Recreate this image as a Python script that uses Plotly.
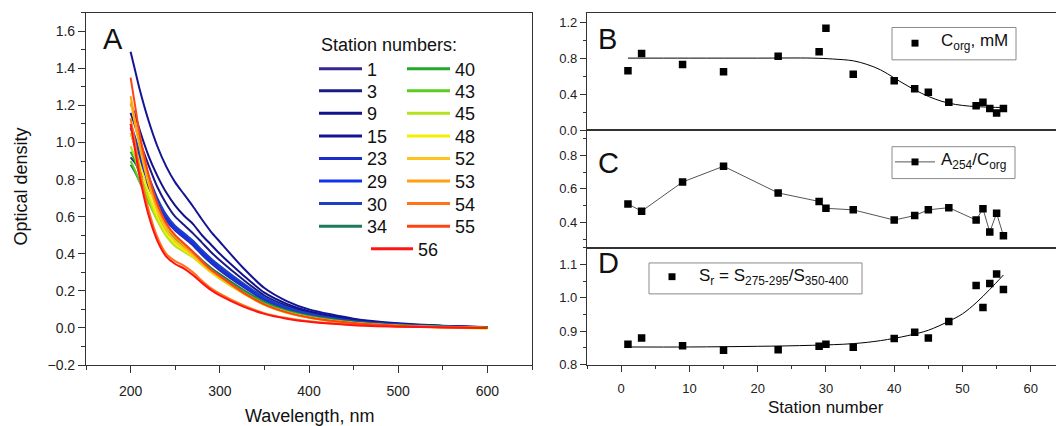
import plotly.graph_objects as go

FIG_W, FIG_H = 1056, 426


def px(x):
    return x / FIG_W


def py(y):
    return 1 - y / FIG_H


# ---------------- Panel A: absorption spectra ----------------
wavelength = [200, 205, 210, 220, 230, 240, 250, 260, 270, 280, 290, 300,
              325, 350, 375, 400, 450, 500, 550, 600]

od_st01 = [0.92, 0.89, 0.85, 0.76, 0.66, 0.58, 0.525, 0.485, 0.445, 0.395, 0.35, 0.31, 0.225, 0.15, 0.10, 0.07, 0.034, 0.016, 0.008, 0.002]
od_st03 = [1.16, 1.09, 1.01, 0.88, 0.76, 0.67, 0.60, 0.555, 0.51, 0.46, 0.41, 0.365, 0.265, 0.175, 0.12, 0.083, 0.041, 0.02, 0.01, 0.004]
od_st09 = [1.21, 1.15, 1.07, 0.93, 0.82, 0.73, 0.66, 0.605, 0.56, 0.50, 0.45, 0.40, 0.29, 0.19, 0.13, 0.09, 0.045, 0.022, 0.011, 0.004]
od_st15 = [1.49, 1.39, 1.29, 1.12, 0.98, 0.87, 0.785, 0.72, 0.655, 0.585, 0.52, 0.465, 0.33, 0.215, 0.145, 0.10, 0.05, 0.025, 0.012, 0.005]
od_st23 = [1.08, 1.01, 0.93, 0.80, 0.68, 0.595, 0.54, 0.50, 0.46, 0.41, 0.365, 0.325, 0.238, 0.16, 0.108, 0.075, 0.036, 0.018, 0.009, 0.003]
od_st29 = [1.05, 0.98, 0.91, 0.78, 0.665, 0.58, 0.53, 0.49, 0.45, 0.40, 0.355, 0.318, 0.232, 0.155, 0.105, 0.072, 0.035, 0.017, 0.008, 0.003]
od_st30 = [1.10, 1.03, 0.95, 0.82, 0.70, 0.61, 0.55, 0.51, 0.47, 0.42, 0.375, 0.335, 0.245, 0.165, 0.112, 0.078, 0.038, 0.019, 0.009, 0.003]
od_st34 = [0.88, 0.84, 0.79, 0.69, 0.60, 0.53, 0.48, 0.45, 0.41, 0.365, 0.325, 0.29, 0.21, 0.14, 0.095, 0.066, 0.032, 0.015, 0.007, 0.002]
od_st40 = [0.95, 0.90, 0.83, 0.71, 0.60, 0.525, 0.475, 0.44, 0.40, 0.355, 0.315, 0.28, 0.202, 0.135, 0.09, 0.062, 0.03, 0.014, 0.006, 0.002]
od_st43 = [0.90, 0.85, 0.79, 0.68, 0.58, 0.505, 0.455, 0.42, 0.385, 0.345, 0.305, 0.272, 0.196, 0.13, 0.087, 0.06, 0.028, 0.013, 0.006, 0.001]
od_st45 = [0.98, 0.92, 0.84, 0.70, 0.58, 0.495, 0.44, 0.41, 0.38, 0.34, 0.30, 0.265, 0.19, 0.126, 0.084, 0.057, 0.027, 0.012, 0.005, 0.0]
od_st48 = [1.05, 0.98, 0.89, 0.73, 0.60, 0.51, 0.455, 0.42, 0.385, 0.342, 0.302, 0.268, 0.19, 0.125, 0.083, 0.056, 0.026, 0.011, 0.003, -0.004]
od_st52 = [1.22, 1.10, 0.98, 0.78, 0.63, 0.53, 0.47, 0.43, 0.39, 0.345, 0.305, 0.27, 0.19, 0.124, 0.082, 0.055, 0.025, 0.011, 0.004, -0.002]
od_st53 = [1.25, 1.12, 1.00, 0.80, 0.65, 0.55, 0.49, 0.445, 0.40, 0.352, 0.31, 0.275, 0.193, 0.126, 0.083, 0.056, 0.026, 0.011, 0.004, 0.0]
od_st54 = [1.13, 1.00, 0.86, 0.64, 0.49, 0.40, 0.36, 0.335, 0.30, 0.255, 0.215, 0.185, 0.125, 0.08, 0.053, 0.036, 0.017, 0.008, 0.004, 0.0]
od_st55 = [1.35, 1.20, 1.05, 0.83, 0.67, 0.565, 0.50, 0.455, 0.41, 0.36, 0.315, 0.28, 0.195, 0.127, 0.084, 0.056, 0.026, 0.012, 0.005, 0.0]
od_st56 = [1.10, 0.96, 0.82, 0.61, 0.47, 0.385, 0.345, 0.32, 0.285, 0.243, 0.205, 0.175, 0.118, 0.076, 0.05, 0.033, 0.015, 0.007, 0.003, -0.001]

stations = [1, 3, 9, 15, 23, 29, 30, 34, 40, 43, 45, 48, 52, 53, 54, 55, 56]
station_colors = ["#3a2590", "#1c1a86", "#12128c", "#141494", "#1a2ecc", "#1234e6",
                  "#1c3fc4", "#1e7a5c", "#22a82a", "#5ccc22", "#b4e21e", "#f2f000",
                  "#ffc21e", "#ffa010", "#ff7418", "#ff4414", "#ff1414"]
spectra = [od_st01, od_st03, od_st09, od_st15, od_st23, od_st29, od_st30, od_st34,
           od_st40, od_st43, od_st45, od_st48, od_st52, od_st53, od_st54, od_st55, od_st56]

# ---------------- Panels B-D: station series ----------------
c_org = [0.66, 0.85, 0.73, 0.65, 0.82, 0.87, 1.13, 0.62, 0.55, 0.46, 0.42, 0.31,
         0.27, 0.31, 0.24, 0.19, 0.24]
a254_corg = [0.51, 0.467, 0.641, 0.735, 0.576, 0.525, 0.484, 0.475, 0.414, 0.441,
             0.475, 0.488, 0.414, 0.482, 0.343, 0.455, 0.32]
s_ratio = [0.861, 0.880, 0.857, 0.843, 0.845, 0.855, 0.861, 0.852, 0.878, 0.897,
           0.880, 0.929, 1.037, 0.971, 1.043, 1.071, 1.025]

# fitted trend lines
corg_fit_x = [1, 10, 20, 28, 31, 34, 36, 38, 40, 42, 44, 46, 48, 50, 52, 54, 56]
corg_fit_y = [0.80, 0.80, 0.80, 0.80, 0.79, 0.77, 0.73, 0.67, 0.58, 0.49, 0.41, 0.345, 0.30, 0.275, 0.262, 0.255, 0.252]
sr_fit_x = [1, 10, 20, 28, 34, 38, 42, 45, 48, 50, 52, 54, 56]
sr_fit_y = [0.853, 0.853, 0.855, 0.858, 0.863, 0.872, 0.887, 0.903, 0.930, 0.952, 0.985, 1.025, 1.068]

AXIS_COLOR = "#333333"
FONT = "Liberation Sans, Arial, sans-serif"

fig = go.Figure()

for st, col, od in zip(stations, station_colors, spectra):
    fig.add_trace(go.Scatter(x=wavelength, y=od, mode="lines", name=str(st),
                             line=dict(color=col, width=2, shape="spline", smoothing=0.7),
                             xaxis="x", yaxis="y", showlegend=False))

sq = dict(symbol="square", size=7.5, color="black")
fig.add_trace(go.Scatter(x=corg_fit_x, y=corg_fit_y, mode="lines",
                         line=dict(color="black", width=1, shape="spline"),
                         xaxis="x2", yaxis="y2", showlegend=False))
fig.add_trace(go.Scatter(x=stations, y=c_org, mode="markers", marker=sq,
                         xaxis="x2", yaxis="y2", showlegend=False))
fig.add_trace(go.Scatter(x=stations, y=a254_corg, mode="lines+markers", marker=sq,
                         line=dict(color="#555555", width=1),
                         xaxis="x3", yaxis="y3", showlegend=False))
fig.add_trace(go.Scatter(x=sr_fit_x, y=sr_fit_y, mode="lines",
                         line=dict(color="black", width=1, shape="spline"),
                         xaxis="x4", yaxis="y4", showlegend=False))
fig.add_trace(go.Scatter(x=stations, y=s_ratio, mode="markers", marker=sq,
                         xaxis="x4", yaxis="y4", showlegend=False))

common = dict(showline=True, linecolor=AXIS_COLOR, linewidth=1.2, showgrid=False,
              zeroline=False, ticks="outside", tickcolor=AXIS_COLOR, tickwidth=1.2,
              ticklen=7, color="#222222")

left_tick_font = dict(family=FONT, size=14, color="#222222")
right_tick_font = dict(family=FONT, size=13, color="#222222")

layout = dict(
    width=FIG_W, height=FIG_H, margin=dict(l=0, r=0, t=0, b=0),
    paper_bgcolor="white", plot_bgcolor="white", showlegend=False,
    font=dict(family=FONT, color="#222222"),
    xaxis=dict(common, domain=[px(86), px(532)], range=[150, 650], dtick=100, tick0=0,
               mirror=True, anchor="y", tickfont=left_tick_font, ticklabelstandoff=6,
               minor=dict(ticks="outside", dtick=50, tick0=0, ticklen=4, tickcolor=AXIS_COLOR)),
    yaxis=dict(common, domain=[py(372), py(13)], range=[-0.2, 1.7], dtick=0.2, tick0=0,
               tickformat=".1f", mirror=True, anchor="x", tickfont=left_tick_font,
               minor=dict(ticks="outside", dtick=0.1, tick0=0, ticklen=4, tickcolor=AXIS_COLOR)),
    xaxis4=dict(common, domain=[px(587), 1.0], range=[-5, 63.7], dtick=10, tick0=0,
                mirror=True, anchor="y4", tickfont=right_tick_font, ticklen=6,
                ticklabelstandoff=6,
                minor=dict(ticks="outside", dtick=5, tick0=0, ticklen=3, tickcolor=AXIS_COLOR)),
    xaxis2=dict(common, domain=[px(587), 1.0], matches="x4", mirror=True, anchor="y2",
                ticks="", showticklabels=False),
    xaxis3=dict(common, domain=[px(587), 1.0], matches="x4", mirror=True, anchor="y3",
                ticks="", showticklabels=False),
    yaxis2=dict(common, domain=[py(132.7), py(13.3)], range=[0, 1.3], dtick=0.4, tick0=0,
                tickformat=".1f", anchor="x2", tickfont=right_tick_font, ticklen=6,
                minor=dict(ticks="outside", dtick=0.2, tick0=0, ticklen=3, tickcolor=AXIS_COLOR)),
    yaxis3=dict(common, domain=[py(252.3), py(132.7)], range=[0.25, 0.95], dtick=0.2, tick0=0,
                tickformat=".1f", anchor="x3", tickfont=right_tick_font, ticklen=6,
                minor=dict(ticks="outside", dtick=0.1, tick0=0, ticklen=3, tickcolor=AXIS_COLOR)),
    yaxis4=dict(common, domain=[py(371.7), py(252.3)], range=[0.8, 1.15], dtick=0.1, tick0=0,
                tickformat=".1f", anchor="x4", tickfont=right_tick_font, ticklen=6,
                minor=dict(ticks="outside", dtick=0.05, tick0=0, ticklen=3, tickcolor=AXIS_COLOR)),
)
fig.update_layout(**layout)

annotations = []
shapes = []


def text(x, y, s, size, xanchor="left", angle=0):
    annotations.append(dict(x=px(x), y=py(y), xref="paper", yref="paper", text=s,
                            showarrow=False, xanchor=xanchor, yanchor="middle",
                            textangle=angle, font=dict(family=FONT, size=size, color="#111111")))


# panel letters
text(101, 40, "A", 29)
text(596, 40, "B", 29)
text(596, 166, "C", 29)
text(596, 268, "D", 29)

# axis titles
text(21, 190, "Optical density", 18, xanchor="center", angle=-90)
text(309, 424, "Wavelength, nm", 18, xanchor="center")
text(826, 415, "Station number", 17, xanchor="center")

# station legend in panel A (two columns, last entry centred)
text(319, 46, "Station numbers:", 18)
row_y = [70, 92.5, 115.5, 138.5, 161.5, 184.5, 207.5, 230.5]
for i, (st, col) in enumerate(zip(stations, station_colors)):
    if i < 8:
        x0, x1, y = 319, 362, row_y[i]
    elif i < 16:
        x0, x1, y = 407, 450, row_y[i - 8]
    else:
        x0, x1, y = 371, 413, 253.5
    shapes.append(dict(type="line", xref="paper", yref="paper", x0=px(x0), x1=px(x1),
                       y0=py(y), y1=py(y), line=dict(color=col, width=3)))
    text(x1 + 3, y + 1, str(st), 18)


def legend_box(x0, y0, x1, y1):
    shapes.append(dict(type="rect", xref="paper", yref="paper", x0=px(x0), x1=px(x1),
                       y0=py(y1), y1=py(y0), line=dict(color="#8a8a8a", width=1),
                       fillcolor="white", layer="above"))


def legend_square(cx, cy, half=3.5):
    shapes.append(dict(type="rect", xref="paper", yref="paper", x0=px(cx - half),
                       x1=px(cx + half), y0=py(cy + half), y1=py(cy - half),
                       line=dict(width=0), fillcolor="black", layer="above"))


legend_box(892, 28, 1016, 61)
legend_square(915, 44)
text(939, 43, "C<sub>org</sub>, mM", 17)

legend_box(892, 149.5, 1015, 182)
shapes.append(dict(type="line", xref="paper", yref="paper", x0=px(895), x1=px(935),
                   y0=py(165), y1=py(165), line=dict(color="#555555", width=1), layer="above"))
legend_square(915, 165)
text(939, 164, "A<sub>254</sub>/C<sub>org</sub>", 17)

legend_box(649, 268, 862, 299.5)
legend_square(672, 282)
text(697, 282, "S<sub>r</sub> = S<sub>275-295</sub>/S<sub>350-400</sub>", 17)

fig.update_layout(annotations=annotations, shapes=shapes)
fig.write_html("out.html")
